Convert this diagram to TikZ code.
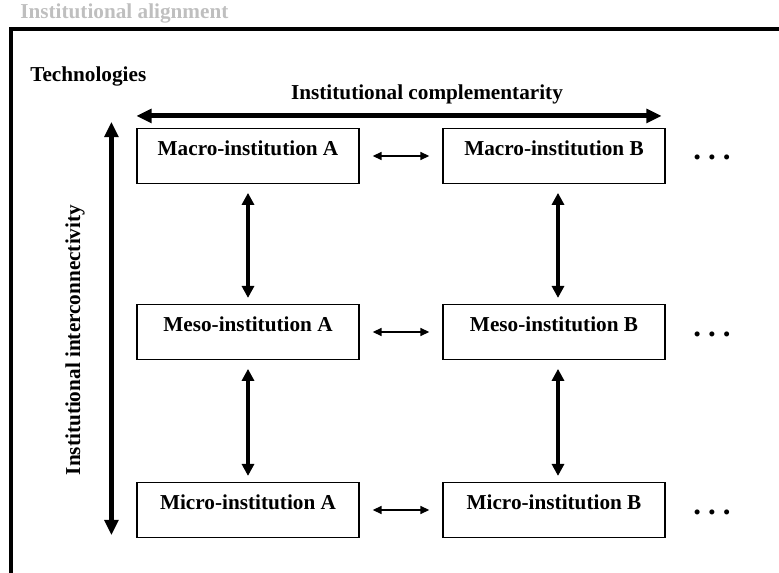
\documentclass[tikz,border=0pt]{standalone}
\usepackage{fontspec}
\setmainfont{Liberation Serif}
\usetikzlibrary{arrows.meta}

\begin{document}
\begin{tikzpicture}[font=\bfseries\fontsize{15.1}{17}\selectfont]
\tikzset{inst/.style={draw, rectangle, line width=0.8pt, minimum width=5.55cm, minimum height=1.375cm,
  text height=11pt, text depth=11pt, inner sep=2pt}}
\tikzset{lbl/.style={inner sep=0pt}}
\tikzset{more/.style={anchor=base, inner sep=0pt, font=\bfseries\fontsize{22}{22}\selectfont}}
\tikzset{bigarr/.style={<->, >={Triangle[length=0.38cm, width=0.34cm]}, line width=3.5pt}}
\tikzset{midarr/.style={<->, >={Triangle[length=0.3cm, width=0.3cm]}, line width=2.3pt,
  shorten <=0.22cm, shorten >=0.15cm}}
\tikzset{smallarr/.style={<->, >={Triangle[length=0.22cm, width=0.2cm]}, line width=1pt,
  shorten <=0.33cm, shorten >=0.33cm}}

\useasboundingbox (0,0) rectangle (19.475,-14.325);

% Frame and headings
\draw[line width=2.5pt] (0.275,-14.6) -- (0.275,-0.725) -- (19.8,-0.725);
\node[lbl, anchor=base west, text=black!25] (title) at (0.5,-0.475) {Institutional alignment};
\node[lbl, anchor=base west] (tech) at (0.75,-2.05) {Technologies};
\node[lbl, anchor=base] (compl) at (10.675,-2.5) {Institutional complementarity};
\node[lbl, anchor=base, rotate=90] (interc) at (2.0,-8.5) {Institutional interconnectivity};

% Institutions
\node[inst] (macroa) at (6.2,-3.9) {Macro-institution A};
\node[inst] (macrob) at (13.85,-3.9) {Macro-institution B};
\node[inst] (mesoa) at (6.2,-8.3) {Meso-institution A};
\node[inst] (mesob) at (13.85,-8.3) {Meso-institution B};
\node[inst] (microa) at (6.2,-12.75) {Micro-institution A};
\node[inst] (microb) at (13.85,-12.75) {Micro-institution B};

\node[more] (dotsmacro) at (17.8,-4.0) {.\hspace{5pt}.\hspace{5pt}.};
\node[more] (dotsmeso) at (17.8,-8.41) {.\hspace{5pt}.\hspace{5pt}.};
\node[more] (dotsmicro) at (17.8,-12.86) {.\hspace{5pt}.\hspace{5pt}.};

% Connections
\draw[bigarr] ([yshift=0.3cm]macroa.north west) -- ([yshift=0.3cm, xshift=-0.1cm]macrob.north east);
\draw[bigarr] ([xshift=-0.625cm, yshift=0.15cm]macroa.north west) -- ([xshift=-0.625cm, yshift=0.075cm]microa.south west);

\draw[smallarr] (macroa) -- (macrob);
\draw[smallarr] (mesoa) -- (mesob);
\draw[smallarr] (microa) -- (microb);

\draw[midarr] (macroa) -- (mesoa);
\draw[midarr] (mesoa) -- (microa);
\draw[midarr] ([xshift=0.1cm]macrob.south) -- ([xshift=0.1cm]mesob.north);
\draw[midarr] ([xshift=0.1cm]mesob.south) -- ([xshift=0.1cm]microb.north);

\end{tikzpicture}
\end{document}
